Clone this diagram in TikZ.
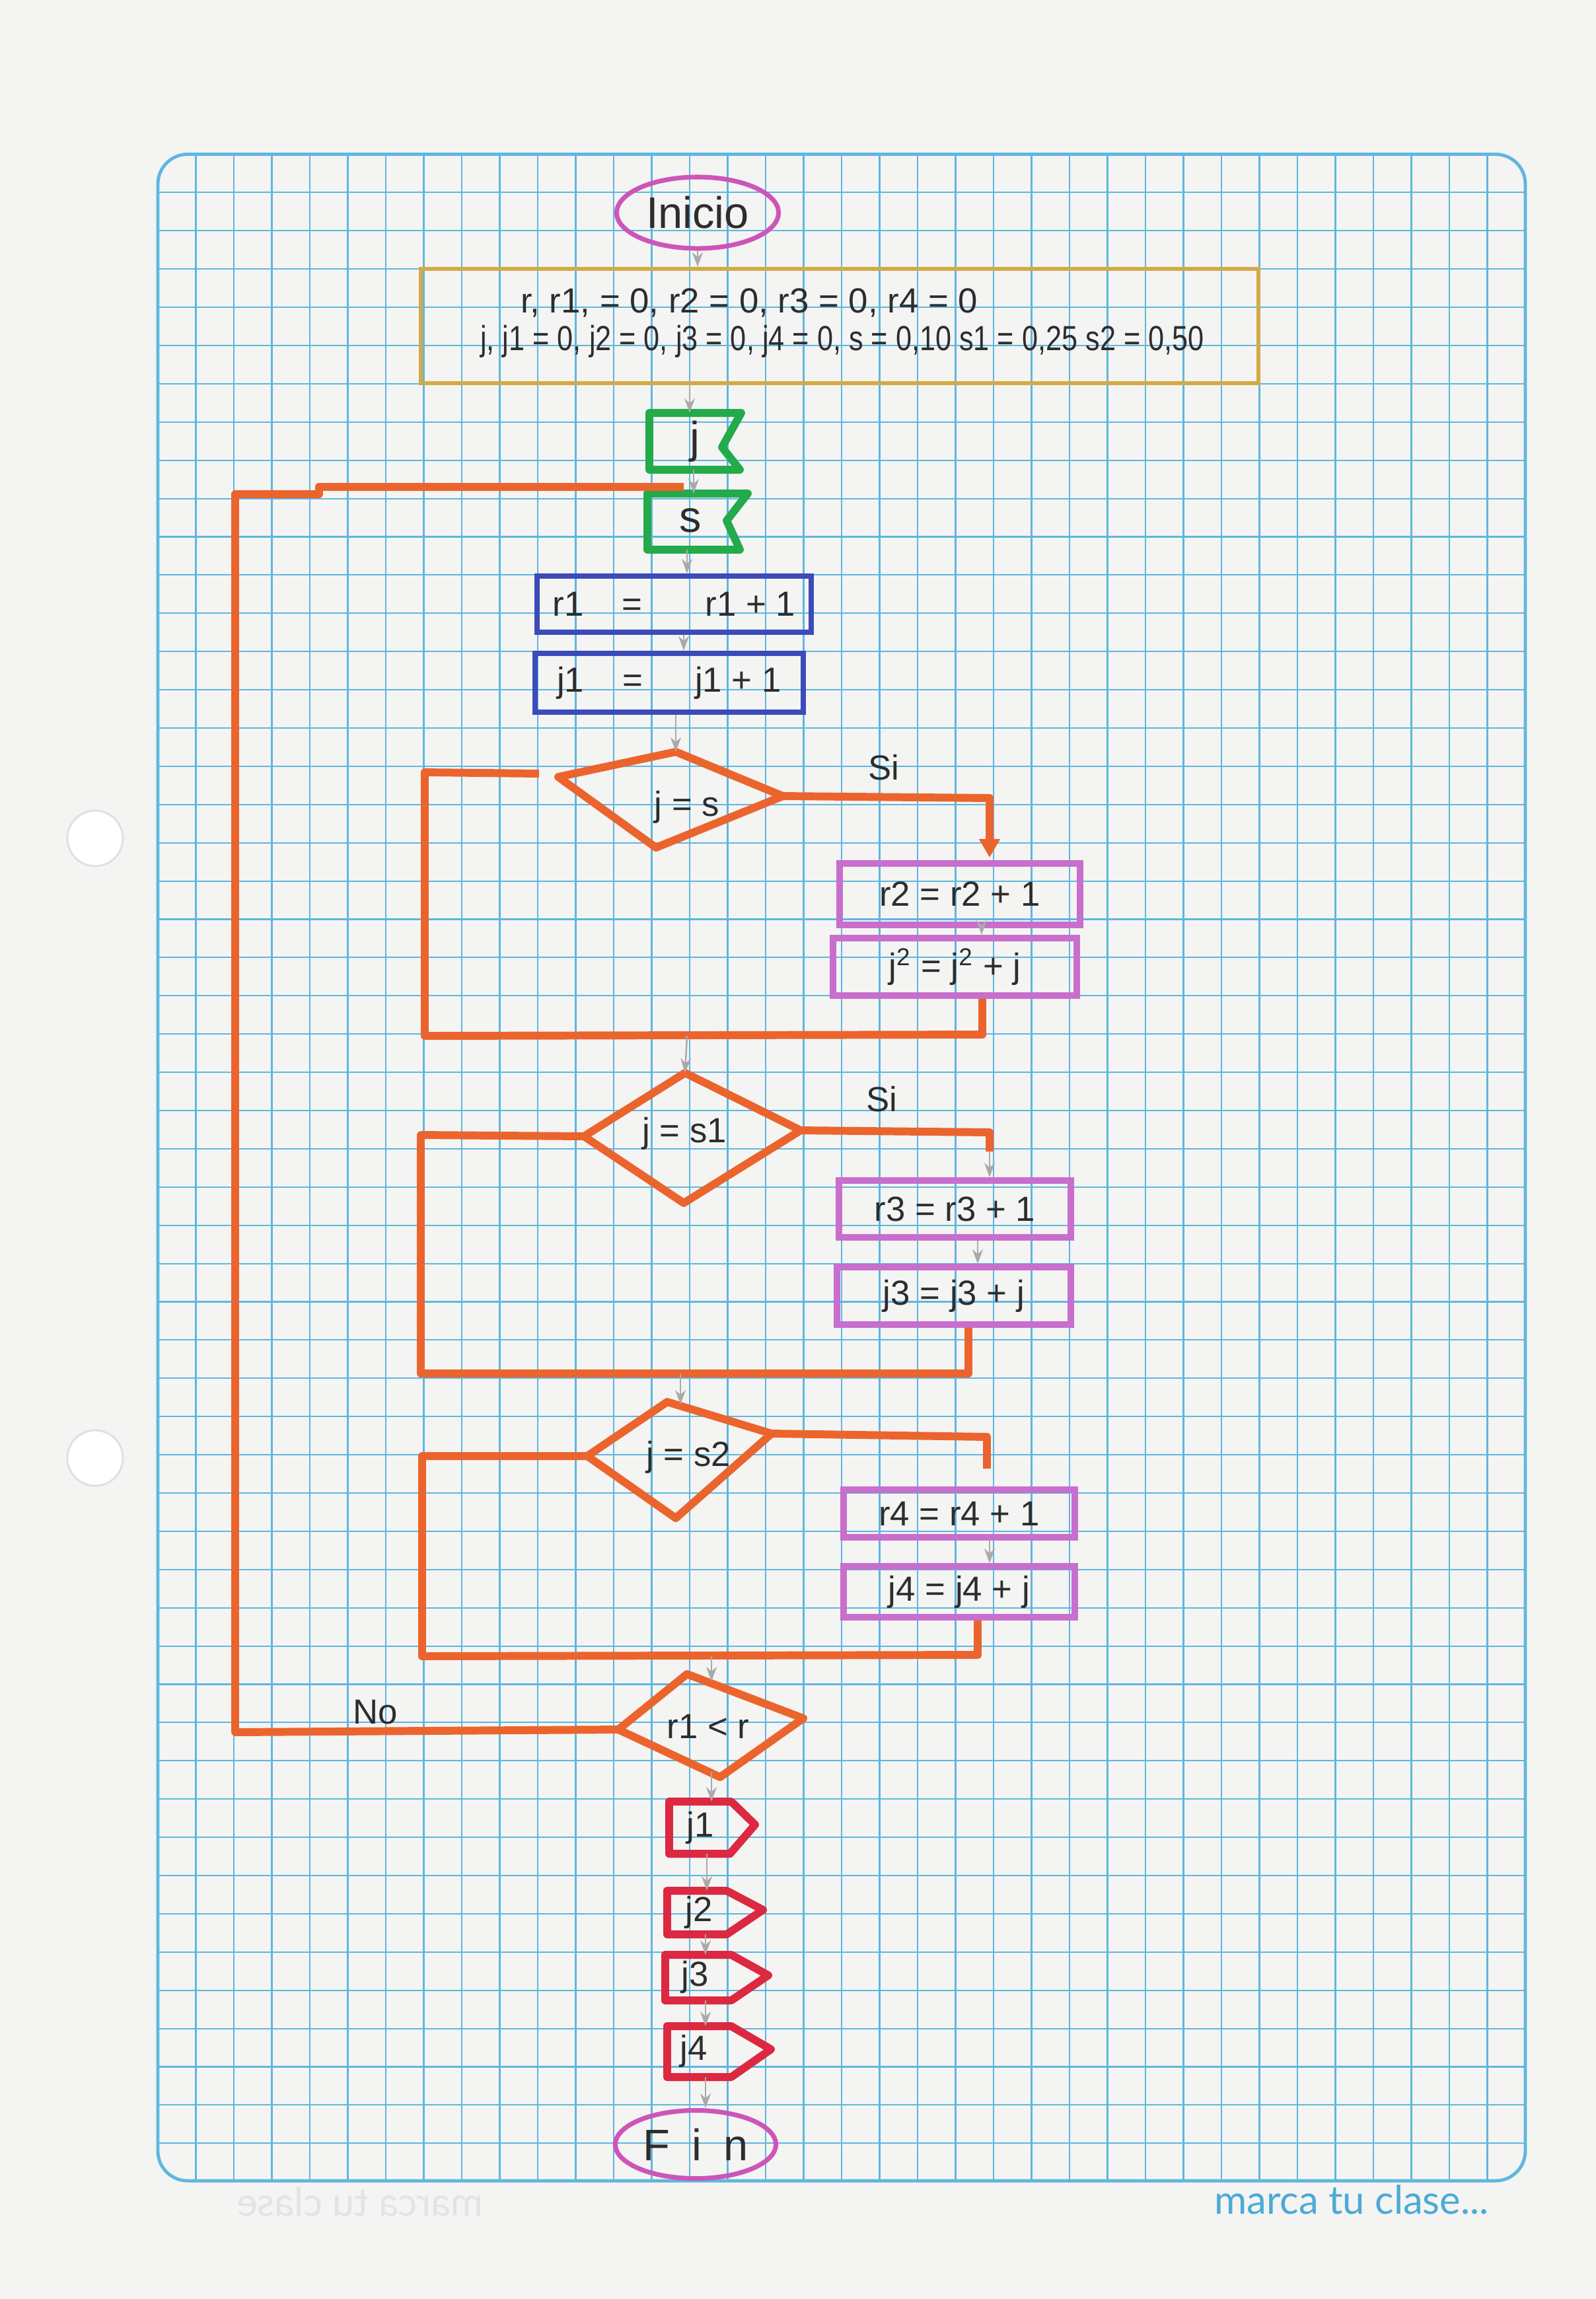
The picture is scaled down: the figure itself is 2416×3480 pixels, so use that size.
\documentclass[tikz,border=0pt]{standalone}
\usepackage{fontspec}
\setmainfont{Liberation Sans}
\newfontfamily\logofont{Lato}
\usetikzlibrary{arrows.meta,shapes.geometric,calc}
\definecolor{paper}{RGB}{244,244,242}
\definecolor{gridc}{RGB}{95,182,225}
\definecolor{pencil}{RGB}{170,170,170}
\definecolor{ink}{RGB}{45,45,45}
\definecolor{pinkc}{RGB}{205,85,185}
\definecolor{goldc}{RGB}{212,170,70}
\definecolor{greenc}{RGB}{35,170,75}
\definecolor{bluec}{RGB}{60,75,185}
\definecolor{orangec}{RGB}{235,100,45}
\definecolor{violetc}{RGB}{200,110,205}
\definecolor{redc}{RGB}{220,40,65}
\definecolor{logoc}{RGB}{75,170,215}
\tikzset{
  gridline/.style={gridc, line width=0.6pt},
  txt/.style={text=ink, font=\fontsize{15}{17}\selectfont, inner sep=0pt},
  bigtxt/.style={text=ink, font=\fontsize{19}{21}\selectfont, inner sep=0pt},
  termin/.style={ellipse, draw=pinkc, line width=2pt, inner sep=0pt, text=ink, font=\fontsize{19}{21}\selectfont},
  initbox/.style={draw=goldc, line width=1.7pt, inner sep=0pt},
  bluebox/.style={draw=bluec, line width=2.3pt, inner sep=0pt, text=ink, font=\fontsize{15}{17}\selectfont},
  pinkbox/.style={draw=violetc, line width=2.8pt, inner sep=0pt, text=ink, font=\fontsize{15}{17}\selectfont},
  greenshape/.style={draw=greenc, line width=3.4pt, line join=round},
  redshape/.style={draw=redc, line width=3.4pt, line join=round},
  decision/.style={draw=orangec, line width=3.4pt, line join=round},
  flowline/.style={draw=orangec, line width=3.4pt, line join=round},
  pencilarrow/.style={draw=pencil, line width=0.7pt, -{Stealth[length=2.2mm,width=1.6mm]}},
}
\begin{document}
\begin{tikzpicture}[x=0.01cm,y=-0.01cm]
\useasboundingbox (0,0) rectangle (2416,3480);
\fill[paper] (0,0) rectangle (2416,3480);
% grid paper
\begin{scope}
\clip[rounded corners=0.45cm] (239,233.5) rectangle (2309,3301);
\foreach \k in {1,...,35} \draw[gridline] ({239+57.5*\k},233.5) -- ({239+57.5*\k},3301);
\foreach \k in {1,...,52} \draw[gridline] (239,{233.5+57.9*\k}) -- (2309,{233.5+57.9*\k});
\end{scope}
\draw[gridc, line width=1.4pt, rounded corners=0.45cm] (239,233.5) rectangle (2309,3301);
% punch holes
\foreach \yy in {1269,2207} \draw[gray!25, fill=white, line width=0.8pt] (144,\yy) circle (0.42cm);
% logo
\node[text=logoc, font=\logofont\fontsize{17}{19}\selectfont, inner sep=0pt] (logo) at (2046,3330) {marca tu clase...};
\node[text=gray!22, font=\logofont\fontsize{17}{19}\selectfont, inner sep=0pt, xscale=-1] (logoback) at (545,3333) {marca tu clase};

% terminals and boxes
\node[termin, minimum width=2.45cm, minimum height=1.08cm] (inicio) at (1056,322) {Inicio};
\node[initbox, minimum width=12.68cm, minimum height=1.73cm] (init) at (1271,493.5) {};
\node[txt] (initA) at (1134,458) {r, r1, = 0, r2 = 0, r3 = 0, r4 = 0};
\node[txt, xscale=0.82] (initB) at (1275,517) {j, j1 = 0, j2 = 0, j3 = 0, j4 = 0, s = 0,10 s1 = 0,25 s2 = 0,50};

% input flags j and s
\draw[greenshape] (983,625) -- (1122,625) -- (1093,677) -- (1120,711) -- (983,711) -- cycle;
\node[bigtxt] (jin) at (1052,668) {j};
\coordinate (jtop) at (1044,625);
\coordinate (jbot) at (1050,711);
\draw[greenshape] (980,747) -- (1132,747) -- (1100,788) -- (1120,832) -- (980,832) -- cycle;
\node[bigtxt] (sin) at (1045,788) {s};
\coordinate (stop) at (1050,747);
\coordinate (sbot) at (1040,832);
\coordinate (loopin) at (1035,737);

\node[bluebox, minimum width=4.15cm, minimum height=0.85cm] (r1) at (1020.5,914.5) {r1\hspace{1.1em}=\hspace{1.8em}r1 + 1};
\node[bluebox, minimum width=4.06cm, minimum height=0.89cm] (j1) at (1013,1033.5) {j1\hspace{1.1em}=\hspace{1.5em}j1 + 1};

% decision 1
\coordinate (d1t) at (1023,1138); \coordinate (d1l) at (845,1176);
\coordinate (d1r) at (1185,1205); \coordinate (d1b) at (993,1283);
\draw[decision] (d1t) -- (d1r) -- (d1b) -- (d1l) -- cycle;
\node[txt] (d1) at (1040,1222) {j = s};
\node[txt] (si1) at (1338,1162) {Si};
\node[pinkbox, minimum width=3.64cm, minimum height=0.93cm] (r2) at (1453,1353.5) {r2 = r2 + 1};
\node[pinkbox, minimum width=3.69cm, minimum height=0.87cm] (j2) at (1445.5,1463.5) {j\textsuperscript{2} = j\textsuperscript{2} + j};

% decision 2
\coordinate (d2t) at (1037,1624); \coordinate (d2l) at (884,1720);
\coordinate (d2r) at (1212,1711); \coordinate (d2b) at (1035,1821);
\draw[decision] (d2t) -- (d2r) -- (d2b) -- (d2l) -- cycle;
\node[txt] (d2) at (1036,1716) {j = s1};
\node[txt] (si2) at (1335,1664) {Si};
\node[pinkbox, minimum width=3.51cm, minimum height=0.86cm] (r3) at (1445.5,1830) {r3 = r3 + 1};
\node[pinkbox, minimum width=3.54cm, minimum height=0.87cm] (j3) at (1444,1961.5) {j3 = j3 + j};

% decision 3
\coordinate (d3t) at (1010,2122); \coordinate (d3l) at (889,2204);
\coordinate (d3r) at (1168,2170); \coordinate (d3b) at (1023,2298);
\draw[decision] (d3t) -- (d3r) -- (d3b) -- (d3l) -- cycle;
\node[txt] (d3) at (1042,2206) {j = s2};
\node[pinkbox, minimum width=3.50cm, minimum height=0.72cm] (r4) at (1452,2291) {r4 = r4 + 1};
\node[pinkbox, minimum width=3.50cm, minimum height=0.77cm] (j4) at (1452,2409.5) {j4 = j4 + j};

% decision 4
\coordinate (d4t) at (1040,2534); \coordinate (d4l) at (936,2618);
\coordinate (d4r) at (1216,2601); \coordinate (d4b) at (1090,2690);
\draw[decision] (d4t) -- (d4r) -- (d4b) -- (d4l) -- cycle;
\node[txt] (d4) at (1072,2613) {r1 < r};
\node[txt] (no) at (568,2592) {No};

% outputs
\draw[redshape] (1013,2727) -- (1107,2727) -- (1143,2762) -- (1105,2806) -- (1013,2806) -- cycle;
\node[txt] (o1) at (1060,2767) {j1};
\draw[redshape] (1010,2862) -- (1100,2862) -- (1155,2891) -- (1100,2928) -- (1010,2928) -- cycle;
\node[txt] (o2) at (1058,2895) {j2};
\draw[redshape] (1007,2959) -- (1107,2959) -- (1163,2990) -- (1107,3028) -- (1007,3028) -- cycle;
\node[txt] (o3) at (1052,2993) {j3};
\draw[redshape] (1010,3067) -- (1107,3067) -- (1167,3102) -- (1107,3144) -- (1010,3144) -- cycle;
\node[txt] (o4) at (1050,3105) {j4};
\node[termin, minimum width=2.43cm, minimum height=1.03cm] (fin) at (1053,3246) {F\hspace{0.5em}i\hspace{0.5em}n};

% orange flow lines
\draw[flowline] (d4l) -- (356,2622) -- (356,748) -- (483,748) -- (483,737) -- (loopin);
\draw[flowline, -{Triangle[length=0.28cm,width=0.3cm]}] (d1r) -- (1498,1208) -- (1498,1298);
\coordinate (ret1end) at (816,1171);
\draw[flowline] (j2.south -| 1487,0) -- (1487,1566) -- (643,1568) -- (643,1169) -- (ret1end);
\draw[flowline] (d2r) -- (1498,1714) -- (1498,1743);
\draw[flowline] (j3.south -| 1466,0) -- (1466,2079) -- (637,2079) -- (637,1718) -- (d2l);
\draw[flowline] (d3r) -- (1494,2175) -- (1494,2223);
\draw[flowline] (j4.south -| 1480,0) -- (1480,2505) -- (639,2507) -- (639,2204) -- (d3l);

% pencil arrows
\draw[pencilarrow] (inicio.south) -- (inicio.south |- init.north);
\draw[pencilarrow] (init.south -| jtop) -- (jtop);
\draw[pencilarrow] (jbot) -- (stop);
\draw[pencilarrow] (sbot) -- (r1.north -| sbot);
\draw[pencilarrow] (r1.south -| 1035,0) -- (j1.north -| 1035,0);
\draw[pencilarrow] (j1.south -| d1t) -- (d1t);
\draw[pencilarrow] (r2.south -| 1486,0) -- (j2.north -| 1486,0);
\draw[pencilarrow] (1040,1568) -- (d2t);
\draw[pencilarrow] (1498,1743) -- (r3.north -| 1498,0);
\draw[pencilarrow] (r3.south -| 1480,0) -- (j3.north -| 1480,0);
\draw[pencilarrow] (1030,2079) -- (1030,2126);
\draw[pencilarrow] (r4.south -| 1498,0) -- (j4.north -| 1498,0);
\draw[pencilarrow] (1077,2507) -- (1077,2545);
\draw[pencilarrow] (1077,2682) -- (1077,2727);
\draw[pencilarrow] (1070,2806) -- (1070,2862);
\draw[pencilarrow] (1068,2928) -- (1068,2959);
\draw[pencilarrow] (1068,3028) -- (1068,3067);
\draw[pencilarrow] (1068,3144) -- (fin.north -| 1068,0);
\end{tikzpicture}
\end{document}
